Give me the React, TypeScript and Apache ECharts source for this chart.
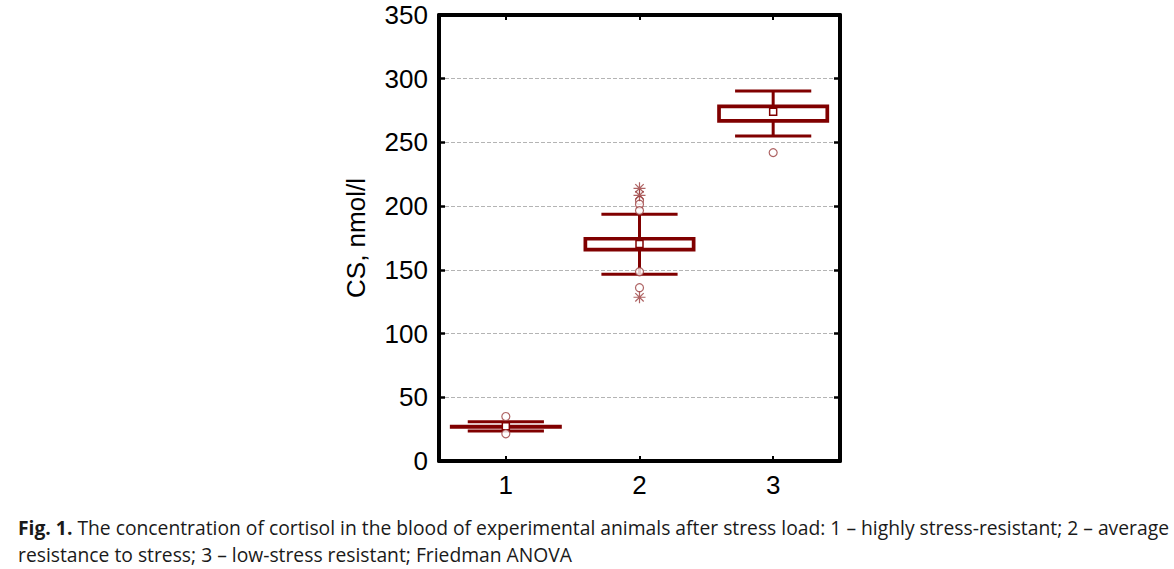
import React, { useEffect, useRef } from "react";
import * as echarts from "echarts";

const categories = ["1", "2", "3"];
const whiskerLow = [23.5, 146.5, 255.1];
const q1 = [26.7, 165.9, 266.9];
const median = [27.2, 170.3, 274.1];
const q3 = [26.9, 174.4, 278.3];
const whiskerHigh = [30.8, 193.7, 290.4];
const outliers = [
  [0, 34.9],
  [0, 21.4],
  [1, 204.5],
  [1, 201.5],
  [1, 196.5],
  [1, 148.5],
  [1, 136.0],
  [2, 242.0],
];
const extremes = [
  [1, 214.0],
  [1, 208.5],
  [1, 128.5],
];
const yTicks = { min: 0, max: 350, interval: 50 };
const yName = "CS, nmol/l";
const captionLine1Bold = "Fig. 1.";
const captionLine1 =
  " The concentration of cortisol in the blood of experimental animals after stress load: 1 – highly stress-resistant; 2 – average";
const captionLine2 = "resistance to stress; 3 – low-stress resistant; Friedman ANOVA";

const DARK_RED = "#800000";

export default function App() {
  const ref = useRef<HTMLDivElement>(null);
  useEffect(() => {
    if (!ref.current) return;
    const chart = echarts.init(ref.current, undefined, { renderer: "svg" });
    const boxData = categories.map((_, i) => [
      i,
      whiskerLow[i],
      q1[i],
      median[i],
      q3[i],
      whiskerHigh[i],
    ]);

    const renderItem = (params: any, api: any) => {
      const x = api.value(0);
      const lo = api.coord([x, api.value(1)]);
      const b1 = api.coord([x, api.value(2)]);
      const md = api.coord([x, api.value(3)]);
      const b3 = api.coord([x, api.value(4)]);
      const hi = api.coord([x, api.value(5)]);
      const band = api.size([1, 0])[0];
      const bw = band * 0.81;
      const cw = band * 0.57;
      const cx = md[0];
      const top = Math.min(b1[1], b3[1]);
      const bot = Math.max(b1[1], b3[1]);
      const ls = { stroke: DARK_RED, lineWidth: 3 };
      return {
        type: "group",
        children: [
          { type: "line", shape: { x1: cx, y1: hi[1], x2: cx, y2: top }, style: ls },
          { type: "line", shape: { x1: cx, y1: bot, x2: cx, y2: lo[1] }, style: ls },
          { type: "line", shape: { x1: cx - cw / 2, y1: hi[1], x2: cx + cw / 2, y2: hi[1] }, style: ls },
          { type: "line", shape: { x1: cx - cw / 2, y1: lo[1], x2: cx + cw / 2, y2: lo[1] }, style: ls },
          {
            type: "rect",
            shape: { x: cx - bw / 2, y: top, width: bw, height: bot - top },
            style: { fill: "#fff", stroke: DARK_RED, lineWidth: 3.7 },
          },
          {
            type: "rect",
            shape: { x: cx - 3.5, y: md[1] - 3.5, width: 7, height: 7 },
            style: { fill: "#fff", stroke: DARK_RED, lineWidth: 1.5 },
          },
        ],
      };
    };

    const boldFont = 'bold 19.3px "Open Sans"';
    const normFont = '19.3px "Open Sans"';
    let boldWidth = 54;
    try {
      const t = new (echarts.graphic as any).Text({ style: { text: captionLine1Bold, font: boldFont } });
      const w = t.getBoundingRect().width;
      if (w > 0) boldWidth = w;
    } catch (e) {}

    const axisLine = { show: true, onZero: false, lineStyle: { color: "#000", width: 4 } };
    const font = "Liberation Sans";
    chart.setOption({
      animation: false,
      grid: { left: 439, right: 334, top: 15, bottom: 108 },
      xAxis: [
        {
          type: "category",
          data: categories,
          position: "bottom",
          axisLine,
          axisTick: { show: true, inside: true, alignWithLabel: true, length: 5, lineStyle: { color: "#000", width: 2 } },
          axisLabel: { fontSize: 26, color: "#000", fontFamily: font, margin: 11 },
          splitLine: { show: false },
        },
        {
          type: "category",
          data: categories,
          position: "top",
          axisLine,
          axisTick: { show: true, inside: true, alignWithLabel: true, length: 5, lineStyle: { color: "#000", width: 2 } },
          axisLabel: { show: false },
          splitLine: { show: false },
        },
      ],
      yAxis: [
        {
          type: "value",
          ...yTicks,
          position: "left",
          name: yName,
          nameLocation: "middle",
          nameGap: 70,
          nameTextStyle: { fontSize: 26, color: "#000", fontFamily: font },
          axisLine,
          axisTick: { show: true, inside: true, length: 6, lineStyle: { color: "#000", width: 2.5 } },
          axisLabel: { fontSize: 26, color: "#000", fontFamily: font, margin: 11 },
          splitLine: { show: true, lineStyle: { color: "#b4b4b4", type: [4, 2], width: 1 } },
        },
        {
          type: "value",
          ...yTicks,
          position: "right",
          axisLine,
          axisTick: { show: true, inside: true, length: 6, lineStyle: { color: "#000", width: 2.5 } },
          axisLabel: { show: false },
          splitLine: { show: false },
        },
      ],
      series: [
        {
          type: "custom",
          renderItem,
          data: boxData,
          encode: { x: 0, y: [1, 2, 3, 4, 5] },
          z: 3,
        },
        {
          type: "scatter",
          data: outliers,
          symbol: "circle",
          symbolSize: 8,
          itemStyle: { color: "#fff", borderColor: "#9a3c3c", borderWidth: 1.2 },
          z: 5,
        },
        {
          type: "scatter",
          data: extremes,
          symbol: "path://M0,5L10,5M5,0L5,10M1.5,1.5L8.5,8.5M8.5,1.5L1.5,8.5",
          symbolSize: 12,
          itemStyle: { color: "transparent", borderColor: "#9a3c3c", borderWidth: 1.2 },
          z: 5,
        },
      ],
      graphic: [
        {
          type: "text",
          x: 18,
          y: 527.5,
          style: { text: captionLine1Bold, font: boldFont, fill: "#1a1a1a", verticalAlign: "middle" },
        },
        {
          type: "text",
          x: 18 + boldWidth,
          y: 527.5,
          style: { text: captionLine1, font: normFont, fill: "#1a1a1a", verticalAlign: "middle" },
        },
        {
          type: "text",
          x: 18,
          y: 554.5,
          style: { text: captionLine2, font: normFont, fill: "#1a1a1a", verticalAlign: "middle" },
        },
      ],
    });
    return () => chart.dispose();
  }, []);
  return (
    <div
      ref={ref}
      style={{ position: "fixed", left: 0, top: 0, width: 1174, height: 569, background: "#fff" }}
    />
  );
}
